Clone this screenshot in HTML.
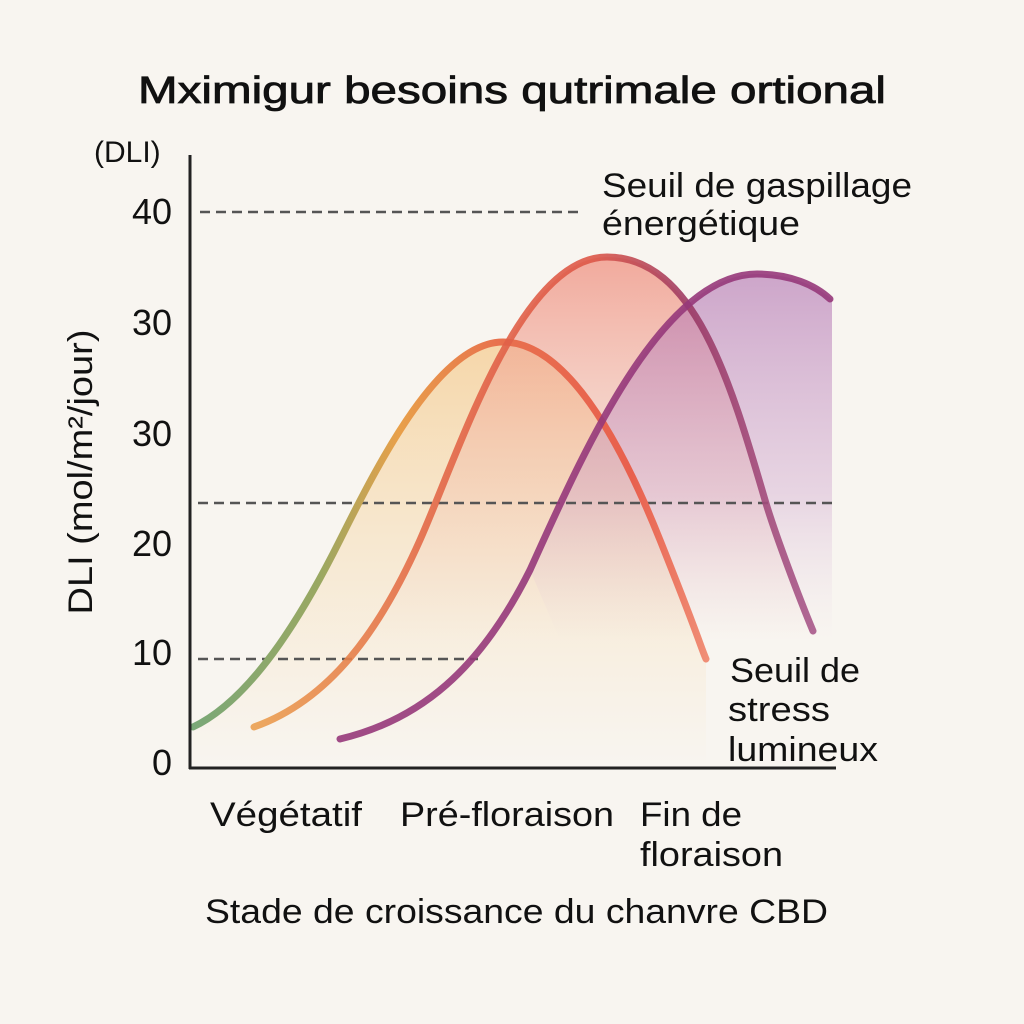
<!DOCTYPE html>
<html><head><meta charset="utf-8"><style>
html,body{margin:0;padding:0;background:#f8f5f0;}
svg{display:block;}
text{font-family:"Liberation Sans",sans-serif;fill:#111;}
</style></head><body>
<svg width="1024" height="1024" viewBox="0 0 1024 1024">
<defs>
<linearGradient id="s1" gradientUnits="userSpaceOnUse" x1="190" y1="0" x2="710" y2="0">
<stop offset="0" stop-color="#79a878"/><stop offset="0.25" stop-color="#9aa862"/><stop offset="0.4" stop-color="#e8a04a"/><stop offset="0.6" stop-color="#e8704e"/><stop offset="0.85" stop-color="#e8604e"/><stop offset="1" stop-color="#f09078"/></linearGradient>
<linearGradient id="s2" gradientUnits="userSpaceOnUse" x1="254" y1="0" x2="815" y2="0">
<stop offset="0" stop-color="#eba050"/><stop offset="0.3" stop-color="#e36a48"/><stop offset="0.6" stop-color="#de5848"/><stop offset="0.78" stop-color="#9a3a66"/><stop offset="1" stop-color="#a8588a"/></linearGradient>
<linearGradient id="f1" x1="0" y1="0" x2="0" y2="1"><stop offset="0" stop-color="#f5c27a" stop-opacity="0.6"/><stop offset="1" stop-color="#f5d7a0" stop-opacity="0"/></linearGradient>
<linearGradient id="f2" gradientUnits="userSpaceOnUse" x1="0" y1="257" x2="0" y2="640"><stop offset="0" stop-color="#f09080" stop-opacity="0.75"/><stop offset="0.5" stop-color="#f0b0a0" stop-opacity="0.4"/><stop offset="1" stop-color="#f0c0b0" stop-opacity="0"/></linearGradient>
<linearGradient id="f3" gradientUnits="userSpaceOnUse" x1="0" y1="274" x2="0" y2="640"><stop offset="0" stop-color="#b070b0" stop-opacity="0.6"/><stop offset="0.6" stop-color="#c898c8" stop-opacity="0.35"/><stop offset="1" stop-color="#e0c8e0" stop-opacity="0"/></linearGradient>
</defs>
<path d="M193,727 C250,700 300,620 340,540 S440,342 503,342 S620,440 660,540 S700,645 706,659 L706,768 L193,768Z" fill="url(#f1)"/>
<path d="M254,727 C330,700 380,630 420,540 S520,257 607,257 C694,257 730,380 765,500 C775,534 800,600 813,631 L813,768 L254,768Z" fill="url(#f2)"/>
<path d="M530,570 C580,460 660,274 757,274 C790,274 815,285 832,299 L832,640 L560,640Z" fill="url(#f3)"/>
<g stroke="#555" stroke-width="2.5" stroke-dasharray="10,6" fill="none">
<line x1="200" y1="212" x2="580" y2="212"/>
<line x1="198" y1="503" x2="835" y2="503"/>
<line x1="198" y1="659" x2="478" y2="659"/>
</g>
<g fill="none" stroke-width="7" stroke-linecap="round">
<path d="M193,727 C250,700 300,620 340,540 S440,342 503,342 S620,440 660,540 S700,645 706,659" stroke="url(#s1)"/>
<path d="M254,727 C330,700 380,630 420,540 S520,257 607,257 C694,257 730,380 765,500 C775,534 800,600 813,631" stroke="url(#s2)" opacity="0.9"/>
<path d="M340,739 C420,720 480,670 530,570 C580,460 660,274 757,274 C790,274 815,285 830,299" stroke="#96387a" opacity="0.9"/>
</g>
<line x1="190" y1="155" x2="190" y2="769" stroke="#222" stroke-width="3"/>
<line x1="189" y1="768" x2="836" y2="768" stroke="#222" stroke-width="3"/>
<text x="512" y="103" font-size="38" text-anchor="middle" textLength="748" lengthAdjust="spacingAndGlyphs" stroke="#111" stroke-width="0.8">Mximigur besoins qutrimale ortional</text>
<text x="94" y="162" font-size="30">(DLI)</text>
<g font-size="36" text-anchor="end">
<text x="172" y="224">40</text><text x="172" y="335">30</text><text x="172" y="446">30</text>
<text x="172" y="556">20</text><text x="172" y="665">10</text><text x="172" y="775">0</text>
</g>
<text transform="translate(92,472) rotate(-90)" font-size="34" text-anchor="middle" textLength="285" lengthAdjust="spacingAndGlyphs">DLI (mol/m²/jour)</text>
<g font-size="34">
<text x="602" y="197" textLength="310" lengthAdjust="spacingAndGlyphs">Seuil de gaspillage</text>
<text x="602" y="235" textLength="198" lengthAdjust="spacingAndGlyphs">énergétique</text>
<text x="730" y="682" textLength="130" lengthAdjust="spacingAndGlyphs">Seuil de</text>
<text x="728" y="721" textLength="102" lengthAdjust="spacingAndGlyphs">stress</text>
<text x="728" y="761" textLength="150" lengthAdjust="spacingAndGlyphs">lumineux</text>
<text x="210" y="826" textLength="152" lengthAdjust="spacingAndGlyphs">Végétatif</text>
<text x="400" y="826" textLength="214" lengthAdjust="spacingAndGlyphs">Pré-floraison</text>
<text x="640" y="826" textLength="102" lengthAdjust="spacingAndGlyphs">Fin de</text>
<text x="640" y="866" textLength="143" lengthAdjust="spacingAndGlyphs">floraison</text>
<text x="205" y="923" textLength="623" lengthAdjust="spacingAndGlyphs">Stade de croissance du chanvre CBD</text>
</g>
</svg>
</body></html>
